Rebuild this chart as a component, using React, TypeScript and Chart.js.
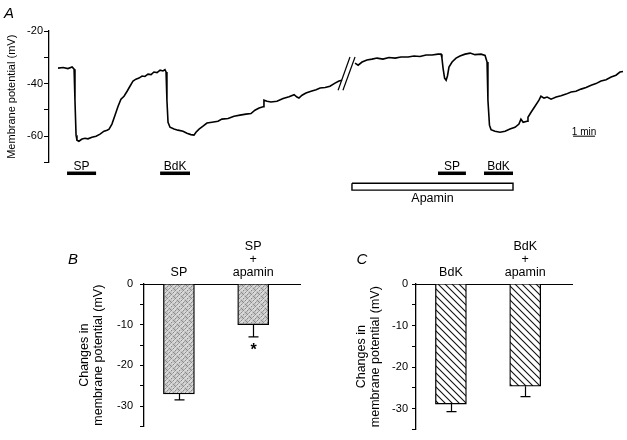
import React, { useEffect, useRef } from 'react';
import { Chart, registerables } from 'chart.js';

Chart.register(...registerables);

const FONT = "'Liberation Sans', Arial, Helvetica, sans-serif";

// ---------- Panel A: membrane potential trace (time in min, potential in mV) ----------
const traceTimeA = [0.41, 0.64, 0.86, 1.05, 1.14, 1.18, 1.23, 1.27, 1.36, 1.5, 1.64, 1.77, 1.95, 2.14, 2.32, 2.5, 2.64, 2.73, 2.86, 3.0, 3.14, 3.27, 3.41, 3.55, 3.68, 3.82, 3.95, 4.09, 4.23, 4.36, 4.5, 4.64, 4.77, 4.91, 5.05, 5.18, 5.27, 5.32, 5.36, 5.41, 5.5, 5.68, 5.86, 6.09, 6.27, 6.45, 6.59, 6.68, 6.82, 7.0, 7.18, 7.41, 7.68, 7.86, 8.14, 8.41, 8.68, 8.95, 9.18, 9.36, 9.55, 9.73, 9.77, 9.91, 10.09, 10.36, 10.64, 10.91, 11.14, 11.27, 11.36, 11.5, 11.68, 11.91, 12.14, 12.32, 12.55, 12.77, 13.0, 13.18, 13.32];
const traceMvA = [-34.1, -33.9, -34.3, -33.7, -34.5, -46.3, -59.6, -61.5, -61.9, -61.1, -60.8, -61.0, -60.4, -60.0, -59.2, -58.1, -57.7, -57.3, -55.4, -52.0, -48.6, -45.9, -44.8, -42.9, -41.0, -39.0, -38.3, -37.9, -37.1, -37.3, -36.4, -36.6, -35.6, -35.8, -34.9, -35.2, -34.7, -35.6, -46.3, -54.7, -56.6, -57.3, -57.7, -58.1, -58.9, -59.4, -59.6, -58.5, -57.3, -56.2, -55.0, -54.7, -54.3, -53.5, -53.3, -52.4, -52.0, -51.6, -51.4, -50.1, -49.3, -48.8, -46.3, -46.7, -47.0, -46.7, -45.7, -45.0, -44.2, -45.1, -45.5, -44.4, -43.6, -42.9, -42.3, -41.7, -41.5, -41.0, -39.8, -39.0, -38.7];
const traceTimeB = [13.91, 14.05, 14.23, 14.45, 14.68, 14.91, 15.18, 15.45, 15.73, 16.0, 16.32, 16.59, 16.86, 17.14, 17.41, 17.68, 17.82, 17.86, 17.91, 17.98, 18.05, 18.11, 18.18, 18.32, 18.5, 18.68, 18.91, 19.14, 19.36, 19.64, 19.82, 19.91, 19.95, 20.02, 20.09, 20.27, 20.5, 20.73, 20.95, 21.18, 21.36, 21.45, 21.55, 21.73, 21.77, 21.91, 22.09, 22.27, 22.36, 22.5, 22.64, 22.82, 23.05, 23.27, 23.5, 23.73, 23.95, 24.18, 24.41, 24.64, 24.86, 25.09, 25.32, 25.55, 25.77, 25.95, 26.09];
const traceMvB = [-32.2, -33.0, -31.8, -31.0, -30.7, -30.3, -30.7, -30.1, -30.3, -29.9, -29.9, -29.5, -29.7, -29.1, -29.1, -28.8, -28.8, -30.3, -34.1, -37.9, -38.7, -37.1, -33.7, -31.8, -30.3, -29.5, -28.8, -28.4, -29.0, -28.8, -29.3, -31.8, -46.3, -55.8, -57.5, -58.1, -58.5, -58.1, -57.3, -56.6, -55.4, -53.5, -54.7, -54.3, -52.8, -50.9, -48.6, -46.3, -44.8, -45.5, -45.1, -45.9, -45.1, -44.6, -44.0, -43.2, -42.9, -42.1, -41.5, -40.6, -40.0, -39.0, -38.5, -37.5, -36.8, -35.6, -35.4];

// axis break marks "//"
const breakTime1 = [13.14, 13.68];
const breakTime2 = [13.36, 13.91];
const breakMv = [-42.5, -29.9];

// drug application bars
const drugNames = ['SP', 'BdK', 'SP', 'BdK'];
const drugStart = [0.82, 5.05, 17.68, 19.77];
const drugEnd = [2.14, 6.41, 18.95, 21.09];
const drugLevel = -74.1;
const apaminName = 'Apamin';
const apaminStart = 13.77;
const apaminEnd = 21.09;
const apaminTop = -77.9;
const apaminBottom = -80.5;

// 1 min scale bar
const scaleBarStart = 23.82;
const scaleBarMinutes = 1;
const scaleBarLevel = -60;

const yTicksA = [-20, -30, -40, -50, -60, -70];
const yTickLabelsA = [-20, -40, -60];

// ---------- Panel B ----------
const categoriesB = [['SP'], ['SP', '+', 'apamin']];
const valuesB = [-27.0, -10.0];
const errorsB = [1.5, 3.0];
const significantB = [false, true];

// ---------- Panel C ----------
const categoriesC = [['BdK'], ['BdK', '+', 'apamin']];
const valuesC = [-28.9, -24.6];
const errorsC = [1.8, 2.5];
const significantC = [false, false];

const barPositions = [1, 2];
const barTicks = [0, -5, -10, -15, -20, -25, -30, -35];

function xy(xs: number[], ys: number[]) {
  return xs.map((x, i) => ({ x, y: ys[i] }));
}

function makeStipple(): CanvasPattern | string {
  const s = 8;
  const c = document.createElement('canvas');
  c.width = s;
  c.height = s;
  const g = c.getContext('2d');
  if (!g) return '#bdbdbd';
  g.fillStyle = '#c6c6c6';
  g.fillRect(0, 0, s, s);
  g.fillStyle = '#d9d9d9';
  g.fillRect(0, 0, 4, 4);
  g.fillRect(4, 4, 4, 4);
  g.fillStyle = '#8a8a8a';
  const dots = [[1, 1], [3, 3], [5, 1], [7, 3], [1, 5], [3, 7], [5, 5], [7, 7], [2, 6], [6, 2]];
  dots.forEach(([x, y]) => g.fillRect(x, y, 1, 1));
  g.fillStyle = '#a6a6a6';
  const dots2 = [[0, 2], [2, 0], [4, 6], [6, 4], [0, 6], [6, 0]];
  dots2.forEach(([x, y]) => g.fillRect(x, y, 1, 1));
  return g.createPattern(c, 'repeat') || '#bdbdbd';
}

function makeHatch(): CanvasPattern | string {
  const s = 7;
  const c = document.createElement('canvas');
  c.width = s;
  c.height = s;
  const g = c.getContext('2d');
  if (!g) return '#fff';
  g.fillStyle = '#ffffff';
  g.fillRect(0, 0, s, s);
  g.strokeStyle = '#111';
  g.lineWidth = 1.1;
  g.beginPath();
  g.moveTo(-1, -1);
  g.lineTo(s + 1, s + 1);
  g.moveTo(s - 1, -1);
  g.lineTo(s + 1, 1);
  g.moveTo(-1, s - 1);
  g.lineTo(1, s + 1);
  g.stroke();
  return g.createPattern(c, 'repeat') || '#fff';
}

function createTrace(canvas: HTMLCanvasElement) {
  const lineBase = { borderColor: '#000', pointRadius: 0, clip: false as any, fill: false, tension: 0 };
  const datasets: any[] = [
    { ...lineBase, data: xy(traceTimeA, traceMvA), borderWidth: 1.6 },
    { ...lineBase, data: xy(traceTimeB, traceMvB), borderWidth: 1.6 },
    { ...lineBase, data: xy(breakTime1, breakMv), borderWidth: 1.2 },
    { ...lineBase, data: xy(breakTime2, breakMv), borderWidth: 1.2 },
  ];
  drugNames.forEach((_, i) => {
    datasets.push({ ...lineBase, data: xy([drugStart[i], drugEnd[i]], [drugLevel, drugLevel]), borderWidth: 3.5, borderCapStyle: 'butt' });
  });
  datasets.push({
    ...lineBase,
    data: xy([apaminStart, apaminEnd, apaminEnd, apaminStart, apaminStart], [apaminTop, apaminTop, apaminBottom, apaminBottom, apaminTop]),
    borderWidth: 1.4,
  });
  datasets.push({
    ...lineBase,
    data: xy([scaleBarStart, scaleBarStart + scaleBarMinutes], [scaleBarLevel, scaleBarLevel]),
    borderWidth: 1,
  });

  const annot = {
    id: 'annotA',
    afterDatasetsDraw(chart: any) {
      const { ctx } = chart;
      const xs = chart.scales.x;
      const ys = chart.scales.y;
      ctx.save();
      ctx.fillStyle = '#000';
      ctx.textAlign = 'center';
      ctx.textBaseline = 'alphabetic';
      ctx.font = `12px ${FONT}`;
      drugNames.forEach((n, i) => {
        const x = xs.getPixelForValue((drugStart[i] + drugEnd[i]) / 2);
        ctx.fillText(n, x, ys.getPixelForValue(drugLevel) - 3);
      });
      ctx.font = `12.5px ${FONT}`;
      ctx.fillText(apaminName, xs.getPixelForValue((apaminStart + apaminEnd) / 2), ys.getPixelForValue(apaminBottom) + 12);
      ctx.font = `10px ${FONT}`;
      ctx.fillText('1 min', xs.getPixelForValue(scaleBarStart + scaleBarMinutes / 2), ys.getPixelForValue(scaleBarLevel) - 1.5);
      ctx.textAlign = 'left';
      ctx.font = `italic 15px ${FONT}`;
      ctx.fillText('A', 4, 17.5);
      ctx.restore();
    },
  };

  return new Chart(canvas, {
    type: 'line',
    data: { datasets },
    options: {
      responsive: false,
      animation: false,
      devicePixelRatio: 1,
      layout: { padding: { left: 0, right: 2, top: 31, bottom: 47.5 } },
      plugins: { legend: { display: false }, tooltip: { enabled: false } },
      scales: {
        x: { type: 'linear', min: 0, max: 26.18, display: false },
        y: {
          type: 'linear',
          min: -70,
          max: -20,
          afterBuildTicks: (s: any) => {
            s.ticks = yTicksA.map((v) => ({ value: v }));
          },
          afterFit: (s: any) => {
            s.width = 49;
          },
          ticks: {
            callback: (v: any) => (yTickLabelsA.includes(Number(v)) ? String(v) : ''),
            font: { family: FONT, size: 11 },
            color: '#000',
            padding: 1,
          },
          grid: { display: true, drawOnChartArea: false, drawTicks: true, tickLength: 5, color: '#000', lineWidth: 1 },
          border: { display: true, color: '#000', width: 1.3 },
          title: {
            display: true,
            text: 'Membrane potential (mV)',
            font: { family: FONT, size: 11 },
            color: '#000',
            padding: { top: 5.4, bottom: 0 },
          },
        },
      },
    } as any,
    plugins: [annot],
  });
}

interface BarCfg {
  cats: string[][];
  vals: number[];
  errs: number[];
  sig: boolean[];
  fill: CanvasPattern | string;
  panel: string;
  panelX: number;
  titleCenter: number;
  axisWidth: number;
  padRight: number;
  tickPad: number;
}

function createBars(canvas: HTMLCanvasElement, cfg: BarCfg) {
  const lh = 12.5 * 1.05;
  const annot = {
    id: 'errBars',
    afterDatasetsDraw(chart: any) {
      const { ctx } = chart;
      const ys = chart.scales.y;
      const meta = chart.getDatasetMeta(0);
      ctx.save();
      ctx.strokeStyle = '#000';
      ctx.lineWidth = 1.2;
      meta.data.forEach((el: any, i: number) => {
        const x = Math.round(el.x) + 0.5;
        const y0 = el.y;
        const y1 = ys.getPixelForValue(cfg.vals[i] - cfg.errs[i]);
        ctx.beginPath();
        ctx.moveTo(x, y0);
        ctx.lineTo(x, y1);
        ctx.moveTo(x - 5, y1);
        ctx.lineTo(x + 5, y1);
        ctx.stroke();
        if (cfg.sig[i]) {
          ctx.fillStyle = '#000';
          ctx.font = `bold 16px ${FONT}`;
          ctx.textAlign = 'center';
          ctx.textBaseline = 'alphabetic';
          ctx.fillText('*', x, y1 + 18);
        }
      });
      ctx.fillStyle = '#000';
      ctx.font = `italic 15px ${FONT}`;
      ctx.textAlign = 'center';
      ctx.textBaseline = 'middle';
      ctx.fillText(cfg.panel, cfg.panelX, 45);
      ctx.restore();
    },
  };

  return new Chart(canvas, {
    type: 'bar',
    data: {
      datasets: [
        {
          data: xy(barPositions, cfg.vals),
          backgroundColor: cfg.fill as any,
          borderColor: '#000',
          borderWidth: 1.3,
          borderSkipped: 'start',
          barThickness: 31,
        },
      ],
    },
    options: {
      responsive: false,
      animation: false,
      devicePixelRatio: 1,
      layout: { padding: { left: 0, right: cfg.padRight, top: 0, bottom: 3.3 } },
      plugins: { legend: { display: false }, tooltip: { enabled: false } },
      scales: {
        x: {
          type: 'linear',
          position: 'top',
          offset: false,
          min: 0.53,
          max: 2.63,
          afterBuildTicks: (s: any) => {
            s.ticks = barPositions.map((v) => ({ value: v }));
          },
          afterFit: (s: any) => {
            s.height = 69;
          },
          ticks: {
            autoSkip: false,
            maxRotation: 0,
            minRotation: 0,
            padding: 4.4,
            color: '#000',
            font: { family: FONT, size: 12.5, lineHeight: 1.05 },
            callback: (_v: any, i: number) => cfg.cats[i],
          },
          grid: { display: false, drawTicks: false },
          border: { display: true, color: '#000', width: 1 },
        },
        y: {
          type: 'linear',
          min: -35,
          max: 0,
          afterBuildTicks: (s: any) => {
            s.ticks = barTicks.map((v) => ({ value: v }));
          },
          afterFit: (s: any) => {
            s.width = cfg.axisWidth;
          },
          ticks: {
            callback: (v: any) => (Number(v) % 10 === 0 ? String(v) : ''),
            font: { family: FONT, size: 11 },
            color: '#000',
            padding: cfg.tickPad,
          },
          grid: { display: true, drawOnChartArea: false, drawTicks: true, tickLength: 4, color: '#000', lineWidth: 1 },
          border: { display: true, color: '#000', width: 1.3 },
          title: {
            display: true,
            text: ['Changes in', 'membrane potential (mV)'],
            font: { family: FONT, size: 12.5, lineHeight: 1.05 },
            color: '#000',
            padding: { top: cfg.titleCenter - lh / 2, bottom: 0 },
          },
        },
      },
    } as any,
    plugins: [annot],
  });
}

export default function App() {
  const refA = useRef<HTMLCanvasElement>(null);
  const refB = useRef<HTMLCanvasElement>(null);
  const refC = useRef<HTMLCanvasElement>(null);

  useEffect(() => {
    const charts: Chart[] = [];
    if (refA.current) charts.push(createTrace(refA.current));
    if (refB.current)
      charts.push(
        createBars(refB.current, {
          cats: categoriesB,
          vals: valuesB,
          errs: errorsB,
          sig: significantB,
          fill: makeStipple(),
          panel: 'B',
          panelX: 73,
          titleCenter: 85,
          axisWidth: 144,
          padRight: 13,
          tickPad: 7,
        })
      );
    if (refC.current)
      charts.push(
        createBars(refC.current, {
          cats: categoriesC,
          vals: valuesC,
          errs: errorsC,
          sig: significantC,
          fill: makeHatch(),
          panel: 'C',
          panelX: 49,
          titleCenter: 49,
          axisWidth: 103,
          padRight: 55,
          tickPad: 4,
        })
      );
    return () => charts.forEach((c) => c.destroy());
  }, []);

  return (
    <div style={{ position: 'absolute', left: 0, top: 0, width: 627, height: 440, background: '#fff' }}>
      <canvas ref={refA} width={627} height={210} style={{ position: 'absolute', left: 0, top: 0, width: 627, height: 210 }} />
      <canvas ref={refB} width={313} height={225} style={{ position: 'absolute', left: 0, top: 215, width: 313, height: 225 }} />
      <canvas ref={refC} width={314} height={225} style={{ position: 'absolute', left: 313, top: 215, width: 314, height: 225 }} />
    </div>
  );
}
